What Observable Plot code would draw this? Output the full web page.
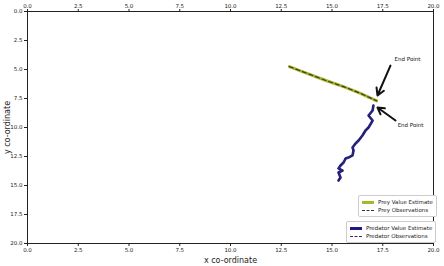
<!DOCTYPE html>
<html><head><meta charset="utf-8">
<script src="https://cdn.jsdelivr.net/npm/d3@7"></script>
<script src="https://cdn.jsdelivr.net/npm/@observablehq/plot@0.6"></script>
<style>
body{margin:0;background:#fff;font-family:"DejaVu Sans",sans-serif;}
#wrap{position:relative;width:444px;height:266px;}
.leg{position:absolute;background:#fff;border:1px solid #ccc;border-radius:2px;font-size:5.5px;color:#222;padding:2px 3px;line-height:8px;}
.leg div{display:flex;align-items:center;white-space:nowrap;}
.sw{width:12px;height:0;margin-right:4px;}
</style></head><body><div id="wrap"></div>
<script>
const xTicks = [0, 2.5, 5, 7.5, 10, 12.5, 15, 17.5, 20];
const yTicks = [0, 2.5, 5, 7.5, 10, 12.5, 15, 17.5, 20];

const preyX = [12.9, 13.8, 14.7, 15.6, 16.4, 17.2];
const preyY = [4.75, 5.35, 5.95, 6.5, 7.05, 7.7];

const predX = [17.04, 17.0, 16.8, 17.0, 16.8, 16.65, 16.5, 16.31, 16.16, 16.01, 16.06, 16.01, 15.81, 15.67, 15.57, 15.42, 15.32, 15.52, 15.32, 15.42, 15.32];
const predY = [8.1, 8.53, 8.97, 9.4, 10.0, 10.26, 10.69, 11.12, 11.38, 11.72, 11.98, 12.41, 12.59, 12.67, 13.02, 13.28, 13.53, 13.71, 13.88, 14.31, 14.57];

const annLabels = ["End Point", "End Point"];
const annTextX = [18.72, 18.87];
const annTextY = [4.14, 9.83];
const annTailX = [17.88, 18.13];
const annTailY = [4.66, 9.4];
const annHeadX = [17.24, 17.24];
const annHeadY = [7.24, 8.28];

const prey = preyX.map((x, i) => ({x, y: preyY[i]}));
const pred = predX.map((x, i) => ({x, y: predY[i]}));
const ann = annLabels.map((t, i) => ({t, tx: annTextX[i], ty: annTextY[i], x1: annTailX[i], y1: annTailY[i], x2: annHeadX[i], y2: annHeadY[i]}));

const fmt = d3.format(".1f");
const plot = Plot.plot({
  width: 444, height: 266,
  marginLeft: 27, marginRight: 11, marginTop: 11, marginBottom: 23,
  style: {fontFamily: "DejaVu Sans, sans-serif", fontSize: "5.5px", background: "#fff", color: "#222"},
  x: {domain: [0, 20]},
  y: {domain: [0, 20], reverse: true},
  marks: [
    Plot.frame({stroke: "#222", strokeWidth: 1}),
    Plot.axisX({anchor: "bottom", ticks: xTicks, tickFormat: fmt, tickSize: 3, tickPadding: 2, label: "x co-ordinate", labelAnchor: "center", labelArrow: false, labelOffset: 19, fontSize: 5.5}),
    Plot.axisX({anchor: "top", ticks: xTicks, tickFormat: fmt, tickSize: 3, tickPadding: 1, label: null, fontSize: 5.5}),
    Plot.axisY({anchor: "left", ticks: yTicks, tickFormat: fmt, tickSize: 3, tickPadding: 2, label: "y co-ordinate", labelAnchor: "center", labelArrow: false, labelOffset: 23, fontSize: 5.5}),
    Plot.line(prey, {x: "x", y: "y", stroke: "#aab52a", strokeWidth: 3}),
    Plot.line(prey, {x: "x", y: "y", stroke: "#3a3a2a", strokeWidth: 1.2, strokeDasharray: "4,3"}),
    Plot.line(pred, {x: "x", y: "y", stroke: "#1c1a8a", strokeWidth: 2.6, curve: "linear"}),
    Plot.line(pred, {x: "x", y: "y", stroke: "#3a2a5a", strokeWidth: 1.2, strokeDasharray: "4,3"}),
    Plot.arrow(ann, {x1: "x1", y1: "y1", x2: "x2", y2: "y2", stroke: "#111", strokeWidth: 2, headLength: 6}),
    Plot.text(ann, {x: "tx", y: "ty", text: "t", fontSize: 5.5, fill: "#111"})
  ]
});
const wrap = document.getElementById("wrap");
wrap.appendChild(plot);
plot.querySelectorAll('[aria-label="x-axis label"] text, [aria-label="y-axis label"] text').forEach(t => t.setAttribute("font-size", "8px"));

const legends = [
  {left: 358, top: 195, items: [["Prey Value Estimate", "#aab52a", "solid", 3], ["Prey Observations", "#333", "dashed", 1.5]]},
  {left: 346, top: 221, items: [["Predator Value Estimate", "#1c1a8a", "solid", 3], ["Predator Observations", "#3a2a5a", "dashed", 1.5]]}
];
legends.forEach(l => {
  const d = document.createElement("div");
  d.className = "leg";
  d.style.left = l.left + "px"; d.style.top = l.top + "px";
  l.items.forEach(([name, c, s, w]) => {
    const row = document.createElement("div");
    const sw = document.createElement("span");
    sw.className = "sw"; sw.style.borderTop = w + "px " + s + " " + c;
    row.appendChild(sw);
    row.appendChild(document.createTextNode(name));
    d.appendChild(row);
  });
  wrap.appendChild(d);
});
</script></body></html>
